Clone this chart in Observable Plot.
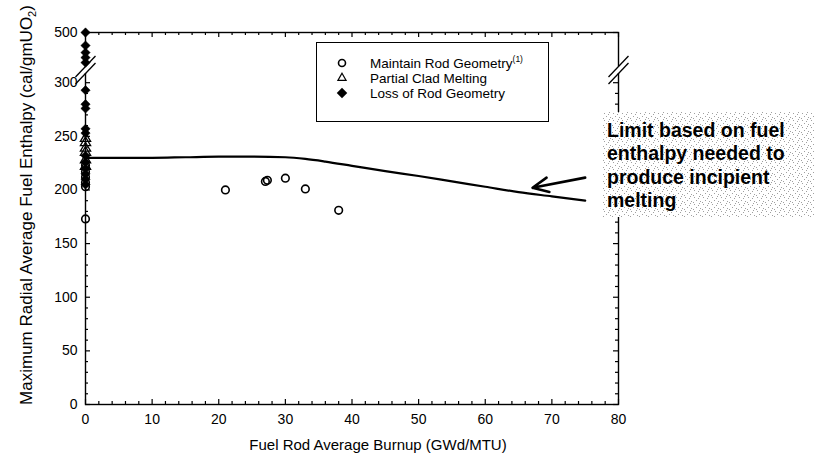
<!DOCTYPE html>
<html>
<head>
<meta charset="utf-8">
<script src="https://cdn.jsdelivr.net/npm/d3@7"></script>
<script src="https://cdn.jsdelivr.net/npm/@observablehq/plot@0.6"></script>
<style>
  html, body { margin: 0; padding: 0; background: white; }
  #chart { position: relative; width: 815px; height: 462px; }
</style>
</head>
<body>
<div id="chart"></div>
<script>
// ---------- data ----------
const maintainBurnup   = [0, 0, 0, 0, 0, 0, 21, 27, 27.3, 30, 33, 38];
const maintainEnthalpy = [173, 203, 207, 212, 217, 223, 200, 208, 209, 211, 201, 181];

const partialBurnup    = [0, 0, 0, 0, 0, 0];
const partialEnthalpy  = [248, 244, 239, 235, 228, 222];

const lossBurnup       = [0, 0, 0, 0, 0, 0, 0, 0, 0, 0, 0, 0, 0, 0, 0, 0];
const lossEnthalpy     = [500, 448, 420, 400, 380, 293, 280, 276, 257, 253, 232, 226, 220, 215, 210, 205];

const limitBurnup      = [0, 5, 10, 15, 20, 25, 30, 33, 36, 40, 45, 50, 55, 60, 65, 70, 75];
const limitEnthalpy    = [230, 230, 230, 230.5, 231, 231, 230.5, 229, 226.5, 222.5, 217.5, 213, 208, 203, 198, 194, 190];

const arrowFrom = {burnup: 75, enthalpy: 211.5};
const arrowTo   = {burnup: 67.1, enthalpy: 202};

const xTickValues = [0, 10, 20, 30, 40, 50, 60, 70, 80];
const yTickValues = [0, 50, 100, 150, 200, 250, 300, 500];

const legendLabels = ["Maintain Rod Geometry", "Partial Clad Melting", "Loss of Rod Geometry"];
const annotationLines = ["Limit based on fuel", "enthalpy needed to", "produce incipient", "melting"];

// ---------- broken y axis (compressed above 300) ----------
const knee = 300, upperFactor = 0.234;
const brk = v => v <= knee ? v : knee + (v - knee) * upperFactor;
const unbrk = t => t <= knee + 1e-9 ? t : knee + (t - knee) / upperFactor;
const yTop = brk(500);

// geometry
const W = 815, H = 462, mL = 85, mR = 197, mT = 32, mB = 58;
const kx = (W - mL - mR) / 80;
const ky = (H - mT - mB) / yTop;

const xMinor = d3.range(0, 81, 2).map(v => ({v, len: v % 10 === 0 ? 5 : 3}));
const yMinor = d3.range(0, 301, 10).map(v => ({v, len: v % 50 === 0 ? 5 : 3})).concat([{v: 500, len: 5}]);

const table = (xs, ys) => xs.map((x, i) => ({burnup: x, enthalpy: ys[i]}));
const maintain = table(maintainBurnup, maintainEnthalpy);
const partial = table(partialBurnup, partialEnthalpy);
const loss = table(lossBurnup, lossEnthalpy);
const limit = table(limitBurnup, limitEnthalpy);

// break marks (pixel rows of the two slashes, converted to scale units)
const breakRows = [66, 73].map(py => (H - mB - py) / ky);
const slashDx = 1.5, slashDy = 9.8;
const breaks = [];
for (const xv of [0, 80]) for (const c of breakRows) breaks.push({x1: xv - slashDx, x2: xv + slashDx, y1: c - slashDy, y2: c + slashDy});
const gaps = [0, 80].map(xv => ({x: xv, y1: breakRows[1], y2: breakRows[0]}));

const font = 'Arial, "Liberation Sans", Helvetica, sans-serif';

const chart = Plot.plot({
  width: W, height: H,
  marginLeft: mL, marginRight: mR, marginTop: mT, marginBottom: mB,
  style: {fontFamily: font, fontSize: "14px", color: "black", background: "white", overflow: "visible"},
  x: {domain: [0, 80]},
  y: {domain: [0, yTop]},
  marks: [
    Plot.axisX({ticks: xTickValues, tickSize: 0, tickPadding: 10, label: null}),
    Plot.axisY({ticks: yTickValues.map(brk), tickSize: 0, tickPadding: 8, label: null,
                tickFormat: d => String(Math.round(unbrk(d)))}),
    // inward ticks
    Plot.ruleX(xMinor, {x: "v", y1: 0, y2: d => d.len / ky, stroke: "black", strokeWidth: 1.2}),
    Plot.ruleX(xMinor, {x: "v", y1: yTop, y2: d => yTop - d.len / ky, stroke: "black", strokeWidth: 1.2}),
    Plot.ruleY(yMinor, {y: d => brk(d.v), x1: 0, x2: d => d.len / kx, stroke: "black", strokeWidth: 1.2}),
    Plot.ruleY(yMinor, {y: d => brk(d.v), x1: 80, x2: d => 80 - d.len / kx, stroke: "black", strokeWidth: 1.2}),
    Plot.frame({stroke: "black", strokeWidth: 1.4}),
    Plot.ruleX(gaps, {x: "x", y1: "y1", y2: "y2", stroke: "white", strokeWidth: 4}),
    Plot.link(breaks, {x1: "x1", x2: "x2", y1: "y1", y2: "y2", stroke: "black", strokeWidth: 1.3}),
    // limit curve
    Plot.line(limit, {x: "burnup", y: "enthalpy", curve: "monotone-x", stroke: "black", strokeWidth: 2.2}),
    // data
    Plot.dot(loss, {x: "burnup", y: d => brk(d.enthalpy), symbol: "diamond2", r: 4.2, fill: "black", stroke: "black", strokeWidth: 0.5}),
    Plot.dot(partial, {x: "burnup", y: d => brk(d.enthalpy), symbol: "triangle", r: 3.8, fill: "none", stroke: "black", strokeWidth: 1.3}),
    Plot.dot(maintain, {x: "burnup", y: d => brk(d.enthalpy), symbol: "circle", r: 3.8, fill: "none", stroke: "black", strokeWidth: 1.6}),
    Plot.arrow([{a: arrowFrom, b: arrowTo}], {x1: d => d.a.burnup, y1: d => d.a.enthalpy, x2: d => d.b.burnup, y2: d => d.b.enthalpy,
               stroke: "black", strokeWidth: 2.6, headLength: 10, headAngle: 50})
  ]
});

document.getElementById("chart").appendChild(chart);

const svg = d3.select(chart);

// axis titles
svg.append("text")
  .attr("x", 378).attr("y", 450)
  .attr("text-anchor", "middle")
  .style("font-family", font).style("font-size", "15px")
  .text("Fuel Rod Average Burnup (GWd/MTU)");

const yt = svg.append("text")
  .attr("transform", "translate(32,205) rotate(-90)")
  .attr("text-anchor", "middle")
  .style("font-family", font).style("font-size", "17px");
yt.append("tspan").text("Maximum Radial Average Fuel Enthalpy (cal/gmUO");
yt.append("tspan").attr("font-size", "11px").attr("dy", 4).text("2");
yt.append("tspan").attr("dy", -4).text(")");

// legend
const lg = svg.append("g").attr("text-anchor", "start");
lg.append("rect").attr("x", 316.5).attr("y", 42.5).attr("width", 232).attr("height", 79)
  .attr("fill", "white").attr("stroke", "black").attr("stroke-width", 1);
const rows = [63, 78, 93];
lg.append("circle").attr("cx", 342).attr("cy", rows[0]).attr("r", 3.5).attr("fill", "none").attr("stroke", "black").attr("stroke-width", 1.6);
lg.append("path").attr("d", d3.symbol(d3.symbolTriangle2, 48)()).attr("transform", `translate(342,${rows[1]})`).attr("fill", "none").attr("stroke", "black").attr("stroke-width", 1.2);
lg.append("path").attr("d", d3.symbol(d3.symbolDiamond2, 70)()).attr("transform", `translate(342,${rows[2]})`).attr("fill", "black");
legendLabels.forEach((t, i) => {
  const tx = lg.append("text").attr("x", 370).attr("y", rows[i] + 5).attr("text-anchor", "start")
    .style("font-family", font).style("font-size", "13.5px").text(t);
  if (i === 0) tx.append("tspan").attr("dy", -6).attr("font-size", "8.5px").text("(1)");
});

// annotation with speckled background
const defs = svg.append("defs");
const pat = defs.append("pattern").attr("id", "speckle").attr("patternUnits", "userSpaceOnUse").attr("width", 9).attr("height", 7);
[[1,1],[5,2],[3,4],[7,5],[0,6],[6,0]].forEach(([px, py]) =>
  pat.append("rect").attr("x", px).attr("y", py).attr("width", 1).attr("height", 1).attr("fill", "#888"));
svg.append("rect").attr("x", 603).attr("y", 112).attr("width", 212).attr("height", 105).attr("fill", "white");
svg.append("rect").attr("x", 603).attr("y", 112).attr("width", 212).attr("height", 105).attr("fill", "url(#speckle)").attr("opacity", 0.8);
annotationLines.forEach((t, i) => {
  svg.append("text").attr("x", 607).attr("y", 137 + i * 23.3).attr("text-anchor", "start")
    .style("font-family", font).style("font-size", "19.5px").style("font-weight", "bold")
    .text(t);
});
</script>
</body>
</html>
